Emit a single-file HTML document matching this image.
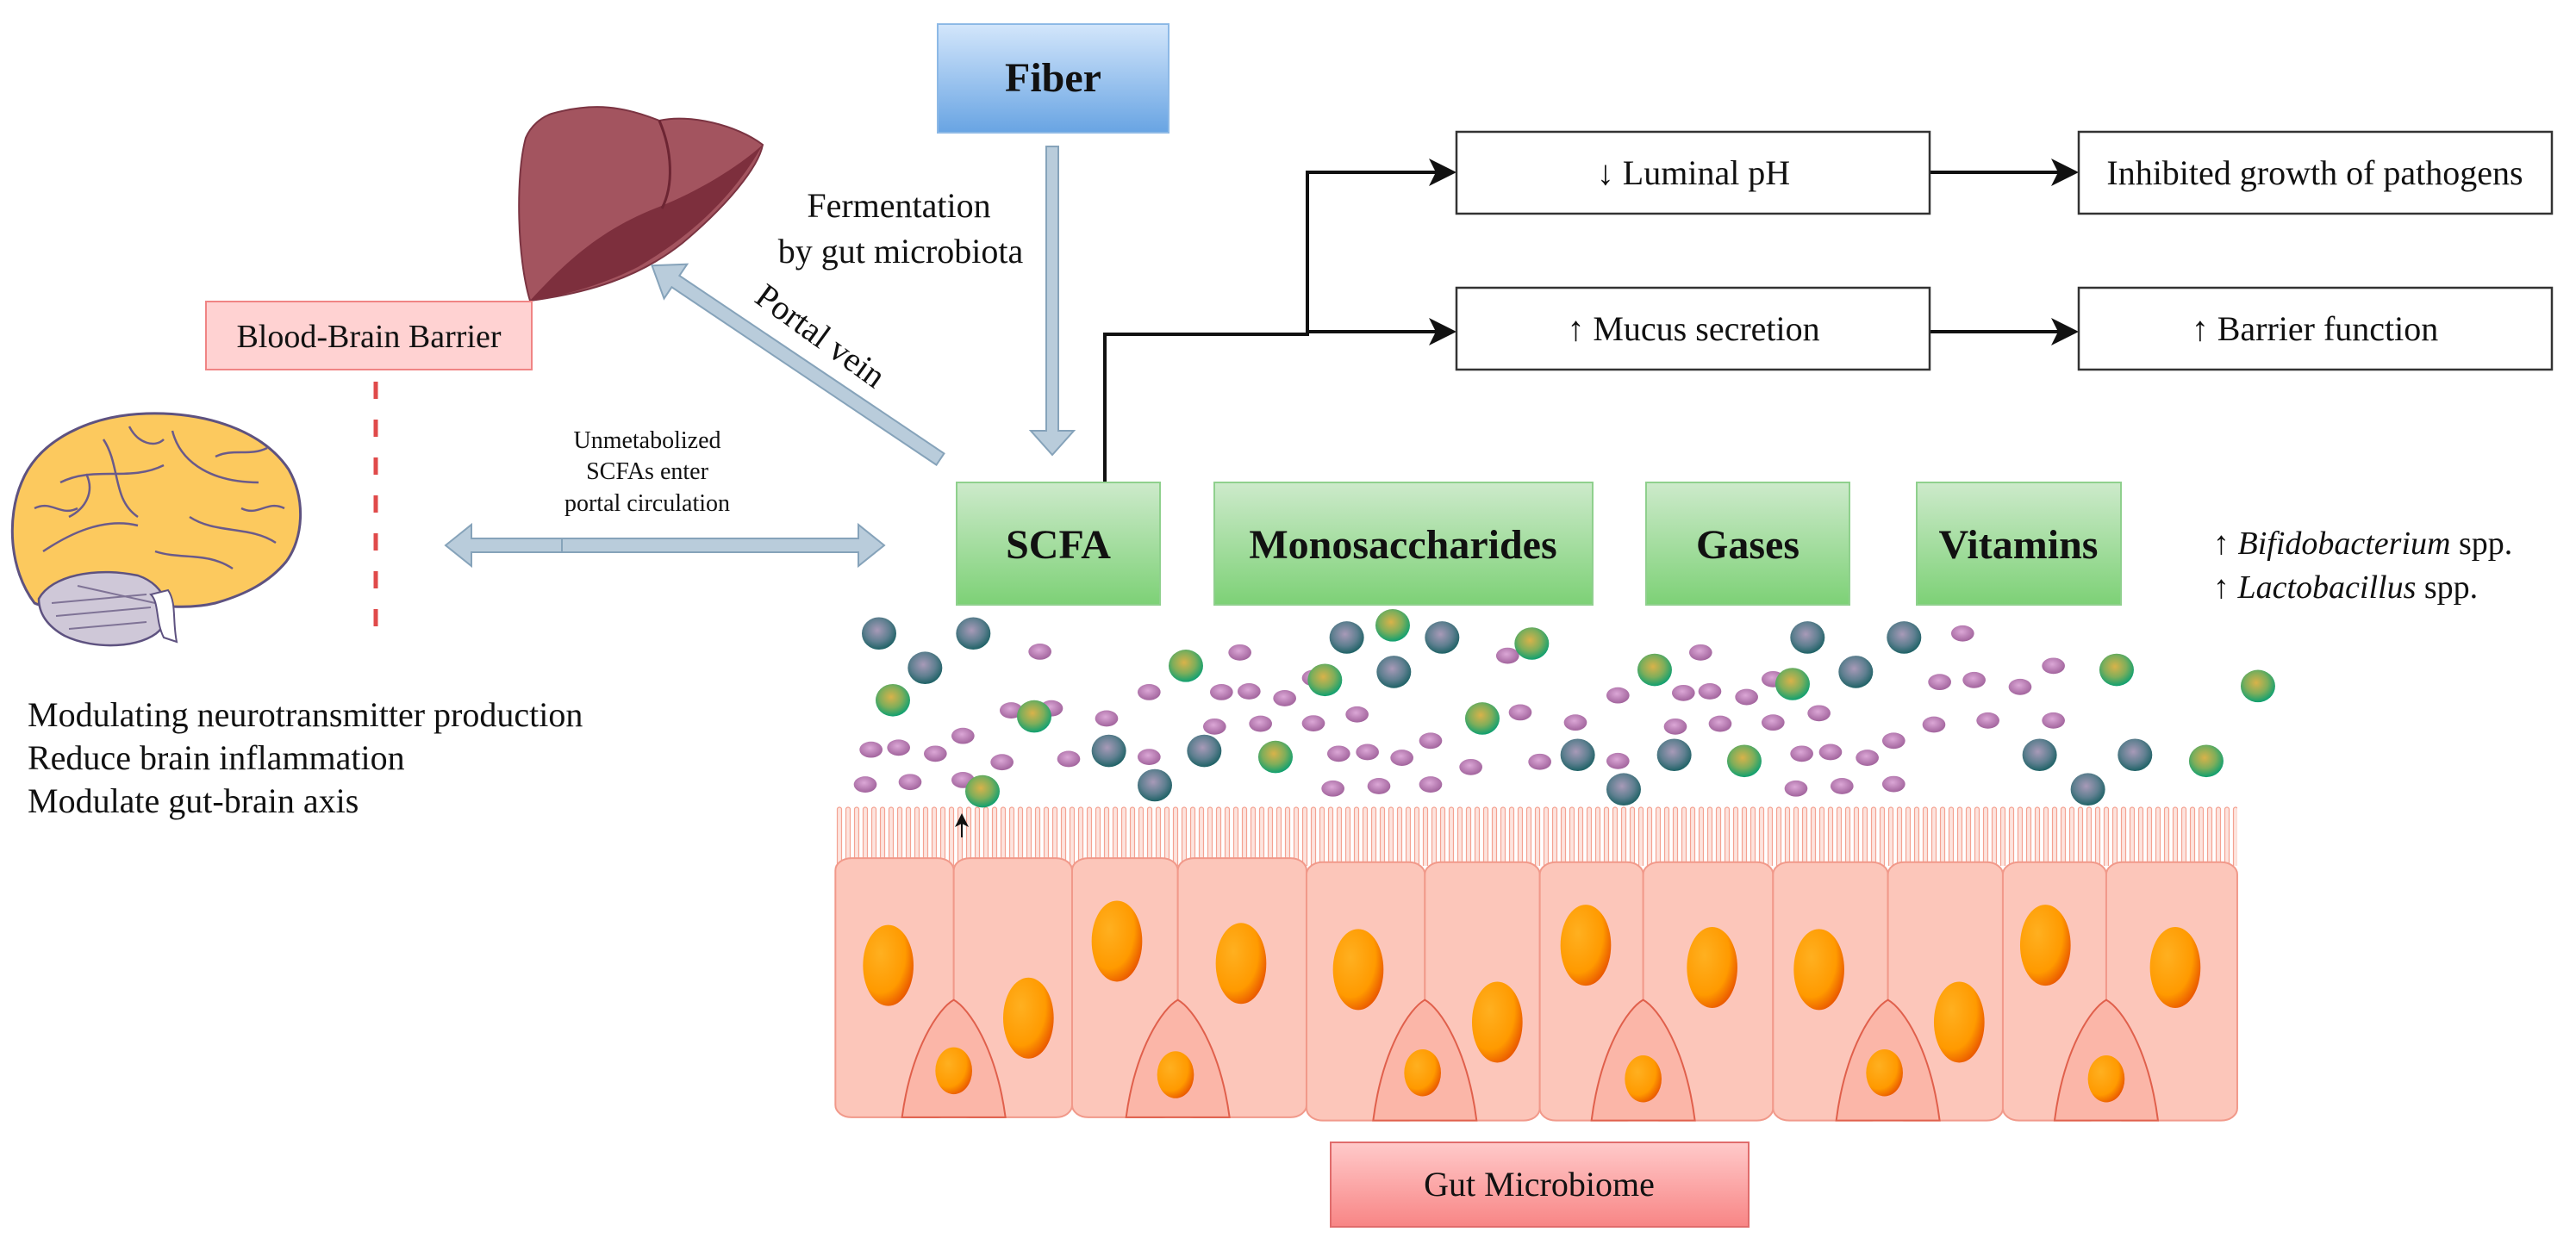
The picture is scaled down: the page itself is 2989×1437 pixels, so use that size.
<!DOCTYPE html>
<html><head><meta charset="utf-8">
<style>
html,body{margin:0;padding:0;background:#fff;}
svg{display:block;font-family:"Liberation Serif","Times New Roman",Times,"DejaVu Serif",serif;}
svg text{font-family:"Liberation Serif","Times New Roman",Times,"DejaVu Serif",serif;fill:#111;}
</style></head>
<body>
<svg width="2989" height="1437" viewBox="0 0 2989 1437" xmlns="http://www.w3.org/2000/svg" font-family="Liberation Serif, Times New Roman, Times, serif">
<defs>
<linearGradient id="gFiber" x1="0" y1="0" x2="0" y2="1"><stop offset="0" stop-color="#d3e6fb"/><stop offset="1" stop-color="#68a4e3"/></linearGradient>
<linearGradient id="gGreen" x1="0" y1="0" x2="0" y2="1"><stop offset="0" stop-color="#cdeacb"/><stop offset="1" stop-color="#7dd176"/></linearGradient>
<linearGradient id="gGut" x1="0" y1="0" x2="0" y2="1"><stop offset="0" stop-color="#ffcaca"/><stop offset="1" stop-color="#f88585"/></linearGradient>
<radialGradient id="gDark" cx="0.45" cy="0.4" r="0.6"><stop offset="0" stop-color="#a89ab8"/><stop offset="0.6" stop-color="#5f7f90"/><stop offset="1" stop-color="#1f6266"/></radialGradient>
<radialGradient id="gGrn" cx="0.45" cy="0.4" r="0.6"><stop offset="0" stop-color="#d9b24a"/><stop offset="0.55" stop-color="#7fae5a"/><stop offset="1" stop-color="#10a070"/></radialGradient>
<radialGradient id="gPk" cx="0.45" cy="0.4" r="0.6"><stop offset="0" stop-color="#dba7d6"/><stop offset="1" stop-color="#a2649d"/></radialGradient>
<radialGradient id="gNuc" cx="0.35" cy="0.35" r="0.7"><stop offset="0" stop-color="#ffb020"/><stop offset="0.7" stop-color="#ff9a00"/><stop offset="1" stop-color="#ea5a00"/></radialGradient>
<ellipse id="dk" rx="15" ry="40" fill="url(#gDark)"/>
<ellipse id="gr" rx="15" ry="40" fill="url(#gGrn)"/>
<ellipse id="pk" rx="10" ry="20" fill="url(#gPk)"/>
<ellipse id="nb" rx="22" ry="100" fill="url(#gNuc)"/>
<ellipse id="ns" rx="16" ry="58" fill="url(#gNuc)"/>
<pattern id="villi" x="969" y="935" width="10" height="70" patternUnits="userSpaceOnUse">
<rect x="2.5" y="2" width="5" height="70" rx="2.5" fill="#fde4de" stroke="#f4a292" stroke-width="1.2"/>
</pattern>
<marker id="ah" markerWidth="8" markerHeight="8" refX="7" refY="4" orient="auto" markerUnits="strokeWidth"><path d="M0,0 L8,4 L0,8 L2,4 Z" fill="#111"/></marker>
</defs>

<rect x="1088" y="28" width="268" height="126" fill="url(#gFiber)" stroke="#8db9e6" stroke-width="2"/>
<text x="1222" y="106" font-size="48" font-weight="bold" text-anchor="middle">Fiber</text>

<polygon points="1214,170 1228,170 1228,500 1246,500 1221,528 1196,500 1214,500" fill="#b9ccdb" stroke="#86a3ba" stroke-width="2"/>

<text x="1043" y="252" font-size="40" text-anchor="middle">Fermentation</text>
<text x="1045" y="305" font-size="40" text-anchor="middle">by gut microbiota</text>

<path d="M640 132 C690 118 725 124 765 140 C800 132 855 145 885 168 C880 195 842 240 792 282 C742 322 682 340 615 349 C600 300 598 205 610 160 C616 146 628 136 640 132 Z" fill="#a3545f" stroke="#7b3442" stroke-width="2"/>
<path d="M885 168 C850 230 800 275 740 310 C700 330 660 342 615 349 C660 300 700 265 765 240 C810 222 855 195 885 168 Z" fill="#7d2f3d"/>
<path d="M765 140 C780 175 782 215 768 242" fill="none" stroke="#6d2533" stroke-width="3"/>

<g transform="translate(1091,533) rotate(213.9)">
<polygon points="0,-8 370,-8 370,-24 403,0 370,24 370,8 0,8" fill="#b9ccdb" stroke="#86a3ba" stroke-width="2"/>
</g>
<text x="952" y="403" font-size="40" text-anchor="middle" transform="rotate(36 952 390)">Portal vein</text>

<rect x="239" y="350" width="378" height="79" fill="#ffd2d2" stroke="#f08484" stroke-width="2"/>
<text x="428" y="403" font-size="38" text-anchor="middle">Blood-Brain Barrier</text>
<line x1="436" y1="443" x2="436" y2="748" stroke="#e04a4a" stroke-width="5" stroke-dasharray="20 24"/>

<path d="M40 700 C10 660 8 600 25 560 C45 510 105 482 170 480 C240 478 305 500 335 545 C355 580 352 625 332 652 C312 676 285 690 250 700 C200 712 150 695 110 695 C80 695 55 708 40 700 Z" fill="#fcc95e" stroke="#5e5280" stroke-width="3"/>
<path d="M50 640 C80 620 120 600 160 610 M70 560 C110 540 150 560 190 540 M200 500 C210 540 250 560 300 560 M120 510 C140 540 130 580 160 600 M220 600 C250 620 290 610 320 630 M80 600 C100 590 110 570 100 550 M250 530 C270 520 290 530 310 520 M180 640 C210 650 240 640 270 660 M40 590 C60 580 70 600 90 590 M150 495 C160 515 180 520 190 510 M280 590 C300 600 310 580 330 590" fill="none" stroke="#6a5a8a" stroke-width="2.5"/>
<path d="M45 695 C60 668 110 658 160 668 C195 680 200 712 185 732 C165 752 110 755 75 738 C55 727 45 712 45 695 Z" fill="#cfc8d8" stroke="#5e5280" stroke-width="2.5"/>
<path d="M60 700 L170 690 M65 715 L175 705 M80 730 L170 722 M90 680 L180 700" stroke="#7f7396" stroke-width="2"/>
<path d="M175 690 C185 700 180 720 190 740 L205 745 C200 720 205 700 195 685 Z" fill="#fff" stroke="#5e5280" stroke-width="2"/>

<text x="32" y="843" font-size="40">Modulating neurotransmitter production</text>
<text x="32" y="893" font-size="40">Reduce brain inflammation</text>
<text x="32" y="943" font-size="40">Modulate gut-brain axis</text>

<polygon points="517,633 547,609 547,625 996,625 996,609 1026,633 996,657 996,641 547,641 547,657" fill="#b9ccdb" stroke="#86a3ba" stroke-width="2"/>
<line x1="652" y1="625" x2="652" y2="641" stroke="#86a3ba" stroke-width="2"/>
<text x="751" y="520" font-size="28" text-anchor="middle">Unmetabolized</text>
<text x="751" y="556" font-size="28" text-anchor="middle">SCFAs enter</text>
<text x="751" y="593" font-size="28" text-anchor="middle">portal circulation</text>

<path d="M1282 560 V388 H1517 V200 H1686" fill="none" stroke="#111" stroke-width="4" marker-end="url(#ah)"/>
<path d="M1517 385 H1686" fill="none" stroke="#111" stroke-width="4" marker-end="url(#ah)"/>
<path d="M2239 200 H2408" fill="none" stroke="#111" stroke-width="4" marker-end="url(#ah)"/>
<path d="M2239 385 H2408" fill="none" stroke="#111" stroke-width="4" marker-end="url(#ah)"/>

<g fill="#fff" stroke="#333" stroke-width="2.5">
<rect x="1690" y="153" width="549" height="95"/>
<rect x="2412" y="153" width="549" height="95"/>
<rect x="1690" y="334" width="549" height="95"/>
<rect x="2412" y="334" width="549" height="95"/>
</g>
<text x="1965" y="214" font-size="40" text-anchor="middle">↓ Luminal pH</text>
<text x="2686" y="214" font-size="40" text-anchor="middle">Inhibited growth of pathogens</text>
<text x="1965" y="395" font-size="40" text-anchor="middle">↑ Mucus secretion</text>
<text x="2686" y="395" font-size="40" text-anchor="middle">↑ Barrier function</text>

<g fill="url(#gGreen)" stroke="#8fd08d" stroke-width="2">
<rect x="1110" y="560" width="236" height="142"/>
<rect x="1409" y="560" width="439" height="142"/>
<rect x="1910" y="560" width="236" height="142"/>
<rect x="2224" y="560" width="237" height="142"/>
</g>
<g font-size="48" font-weight="bold" text-anchor="middle">
<text x="1228" y="648">SCFA</text>
<text x="1628" y="648">Monosaccharides</text>
<text x="2028" y="648">Gases</text>
<text x="2342" y="648">Vitamins</text>
</g>
<text x="2568" y="643" font-size="38">↑ <tspan font-style="italic">Bifidobacterium</tspan> spp.</text>
<text x="2568" y="694" font-size="38">↑ <tspan font-style="italic">Lactobacillus</tspan> spp.</text>

<rect x="969" y="935" width="1627" height="70" fill="url(#villi)"/>

<g transform="matrix(1.3333,0,0,0.47,900,700)">
<g fill="#fcc6ba" stroke="#f1998a" stroke-width="2">
<rect x="52" y="630" width="103" height="640" rx="14" ry="30" vector-effect="non-scaling-stroke"/>
<rect x="155" y="630" width="103" height="640" rx="14" ry="30" vector-effect="non-scaling-stroke"/>
<rect x="258" y="630" width="92" height="640" rx="14" ry="30" vector-effect="non-scaling-stroke"/>
<rect x="350" y="630" width="112" height="640" rx="14" ry="30" vector-effect="non-scaling-stroke"/>
<rect x="462" y="640" width="103" height="638" rx="14" ry="30" vector-effect="non-scaling-stroke"/>
<rect x="565" y="640" width="100" height="638" rx="14" ry="30" vector-effect="non-scaling-stroke"/>
<rect x="665" y="640" width="90" height="638" rx="14" ry="30" vector-effect="non-scaling-stroke"/>
<rect x="755" y="640" width="113" height="638" rx="14" ry="30" vector-effect="non-scaling-stroke"/>
<rect x="868" y="640" width="100" height="638" rx="14" ry="30" vector-effect="non-scaling-stroke"/>
<rect x="968" y="640" width="100" height="638" rx="14" ry="30" vector-effect="non-scaling-stroke"/>
<rect x="1068" y="640" width="90" height="638" rx="14" ry="30" vector-effect="non-scaling-stroke"/>
<rect x="1158" y="640" width="114" height="638" rx="14" ry="30" vector-effect="non-scaling-stroke"/>
</g>
<g fill="#fbb6a8" stroke="#e0604c" stroke-width="2">
<path vector-effect="non-scaling-stroke" d="M110 1270 C118 1100 142 1000 155 980 C168 1000 192 1100 200 1270 Z"/>
<path vector-effect="non-scaling-stroke" d="M305 1270 C313 1100 337 1000 350 980 C363 1000 387 1100 395 1270 Z"/>
<path vector-effect="non-scaling-stroke" d="M520 1278 C528 1100 552 1000 565 980 C578 1000 602 1100 610 1278 Z"/>
<path vector-effect="non-scaling-stroke" d="M710 1278 C718 1100 742 1000 755 980 C768 1000 792 1100 800 1278 Z"/>
<path vector-effect="non-scaling-stroke" d="M923 1278 C931 1100 955 1000 968 980 C981 1000 1005 1100 1013 1278 Z"/>
<path vector-effect="non-scaling-stroke" d="M1113 1278 C1121 1100 1145 1000 1158 980 C1171 1000 1195 1100 1203 1278 Z"/>
</g>
<use href="#nb" x="98" y="895"/><use href="#nb" x="220" y="1025"/><use href="#ns" x="155" y="1155"/>
<use href="#nb" x="297" y="835"/><use href="#nb" x="405" y="890"/><use href="#ns" x="348" y="1165"/>
<use href="#nb" x="507" y="905"/><use href="#nb" x="628" y="1035"/><use href="#ns" x="563" y="1160"/>
<use href="#nb" x="705" y="845"/><use href="#nb" x="815" y="900"/><use href="#ns" x="755" y="1175"/>
<use href="#nb" x="908" y="905"/><use href="#nb" x="1030" y="1035"/><use href="#ns" x="965" y="1160"/>
<use href="#nb" x="1105" y="845"/><use href="#nb" x="1218" y="900"/><use href="#ns" x="1158" y="1175"/>

<use href="#pk" x="230" y="120"/><use href="#pk" x="205" y="265"/><use href="#pk" x="240" y="260"/><use href="#pk" x="288" y="285"/>
<use href="#pk" x="325" y="220"/><use href="#pk" x="388" y="220"/><use href="#pk" x="412" y="218"/><use href="#pk" x="443" y="235"/>
<use href="#pk" x="404" y="122"/><use href="#pk" x="468" y="185"/><use href="#pk" x="506" y="275"/><use href="#pk" x="468" y="297"/>
<use href="#pk" x="422" y="298"/><use href="#pk" x="382" y="305"/><use href="#pk" x="163" y="328"/><use href="#pk" x="83" y="362"/>
<use href="#pk" x="107" y="357"/><use href="#pk" x="139" y="372"/><use href="#pk" x="197" y="393"/><use href="#pk" x="255" y="385"/>
<use href="#pk" x="325" y="380"/><use href="#pk" x="490" y="372"/><use href="#pk" x="515" y="368"/><use href="#pk" x="545" y="382"/>
<use href="#pk" x="570" y="340"/><use href="#pk" x="605" y="405"/><use href="#pk" x="665" y="392"/><use href="#pk" x="733" y="390"/>
<use href="#pk" x="648" y="270"/><use href="#pk" x="696" y="295"/><use href="#pk" x="637" y="130"/><use href="#pk" x="805" y="122"/>
<use href="#pk" x="733" y="228"/><use href="#pk" x="790" y="222"/><use href="#pk" x="813" y="218"/><use href="#pk" x="845" y="232"/>
<use href="#pk" x="868" y="188"/><use href="#pk" x="783" y="305"/><use href="#pk" x="822" y="298"/><use href="#pk" x="868" y="295"/>
<use href="#pk" x="908" y="272"/><use href="#pk" x="893" y="372"/><use href="#pk" x="918" y="368"/><use href="#pk" x="950" y="382"/>
<use href="#pk" x="973" y="340"/><use href="#pk" x="1008" y="300"/><use href="#pk" x="1055" y="290"/><use href="#pk" x="1112" y="290"/>
<use href="#pk" x="1013" y="195"/><use href="#pk" x="1043" y="190"/><use href="#pk" x="1083" y="207"/><use href="#pk" x="1112" y="155"/>
<use href="#pk" x="1033" y="75"/><use href="#pk" x="78" y="448"/><use href="#pk" x="117" y="442"/><use href="#pk" x="163" y="437"/>
<use href="#pk" x="485" y="458"/><use href="#pk" x="525" y="452"/><use href="#pk" x="570" y="448"/><use href="#pk" x="888" y="458"/>
<use href="#pk" x="928" y="452"/><use href="#pk" x="973" y="447"/>
<use href="#dk" x="90" y="75"/><use href="#dk" x="172" y="75"/><use href="#dk" x="130" y="160"/>
<use href="#dk" x="290" y="365"/><use href="#dk" x="373" y="365"/><use href="#dk" x="330" y="450"/>
<use href="#dk" x="497" y="85"/><use href="#dk" x="580" y="85"/><use href="#dk" x="538" y="170"/>
<use href="#dk" x="698" y="375"/><use href="#dk" x="782" y="375"/><use href="#dk" x="738" y="460"/>
<use href="#dk" x="898" y="85"/><use href="#dk" x="982" y="85"/><use href="#dk" x="940" y="170"/>
<use href="#dk" x="1100" y="375"/><use href="#dk" x="1183" y="375"/><use href="#dk" x="1142" y="460"/>
<use href="#gr" x="102" y="240"/><use href="#gr" x="225" y="280"/><use href="#gr" x="357" y="155"/>
<use href="#gr" x="537" y="55"/><use href="#gr" x="478" y="190"/><use href="#gr" x="658" y="100"/>
<use href="#gr" x="615" y="285"/><use href="#gr" x="435" y="380"/><use href="#gr" x="180" y="465"/>
<use href="#gr" x="765" y="165"/><use href="#gr" x="885" y="200"/><use href="#gr" x="843" y="390"/>
<use href="#gr" x="1167" y="165"/><use href="#gr" x="1290" y="205"/><use href="#gr" x="1245" y="390"/>
</g>

<line x1="1116" y1="972" x2="1116" y2="946" stroke="#111" stroke-width="2" marker-end="url(#ah)"/>

<rect x="1544" y="1326" width="485" height="98" fill="url(#gGut)" stroke="#e06c6c" stroke-width="2"/>
<text x="1786" y="1388" font-size="40" text-anchor="middle">Gut Microbiome</text>
</svg>
</body></html>
